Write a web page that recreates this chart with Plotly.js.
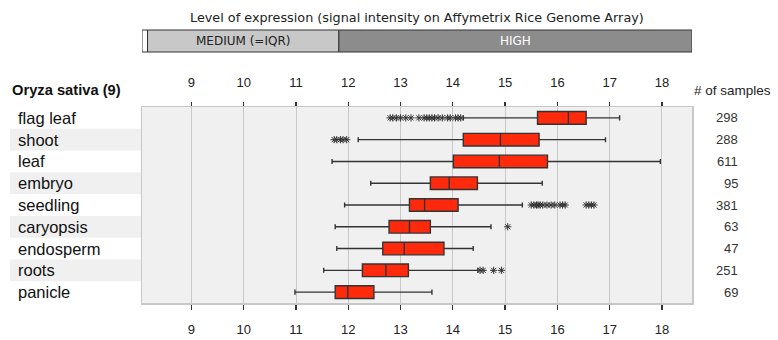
<!DOCTYPE html>
<html>
<head>
<meta charset="utf-8">
<script src="https://cdn.plot.ly/plotly-3.0.1.min.js"></script>
<style>html,body{margin:0;padding:0;background:#fff;}#chart{width:778px;height:340px;}</style>
</head>
<body>
<div id="chart"></div>
<script>
// ---- data ----
const tissues = ["flag leaf","shoot","leaf","embryo","seedling","caryopsis","endosperm","roots","panicle"];
const sampleCounts = [298, 288, 611, 95, 381, 63, 47, 251, 69];
const lowerFence = [14.20, 12.19, 11.69, 12.43, 11.93, 11.75, 11.78, 11.53, 10.98];
const q1Values   = [15.62, 14.20, 14.01, 13.57, 13.17, 12.78, 12.66, 12.27, 11.75];
const medians    = [16.21, 14.91, 14.89, 13.93, 13.46, 13.17, 13.07, 12.72, 11.99];
const q3Values   = [16.55, 15.65, 15.81, 14.47, 14.10, 13.57, 13.83, 13.15, 12.49];
const upperFence = [17.19, 16.92, 17.97, 15.71, 15.33, 14.73, 14.39, 14.48, 13.60];
const outFlagLeaf = [12.80, 12.85, 12.92, 13.00, 13.10, 13.20, 13.35, 13.45, 13.50, 13.55, 13.60, 13.65, 13.72, 13.80, 13.90, 13.95, 14.05, 14.10, 14.15];
const outShoot = [11.73, 11.78, 11.85, 11.90, 11.97];
const outSeedling = [15.50, 15.55, 15.60, 15.63, 15.67, 15.72, 15.80, 15.88, 15.95, 16.05, 16.10, 16.15, 16.55, 16.60, 16.65, 16.70];
const outCaryopsis = [15.05];
const outRoots = [14.52, 14.58, 14.78, 14.93];
const xTicks = [9, 10, 11, 12, 13, 14, 15, 16, 17, 18];
const legendTitle = "Level of expression (signal intensity on Affymetrix Rice Genome Array)";
const legendSegments = ["MEDIUM (=IQR)", "HIGH"];
const speciesLabel = "Oryza sativa (9)";
const samplesHeader = "# of samples";

// ---- build ----
const outX = [], outY = [];
[[outFlagLeaf,"flag leaf"],[outShoot,"shoot"],[outSeedling,"seedling"],[outCaryopsis,"caryopsis"],[outRoots,"roots"]]
  .forEach(([arr,name]) => arr.forEach(v => { outX.push(v); outY.push(name); }));

const xRange = [8.054, 18.575];
const FONT = "Liberation Sans, Arial, sans-serif";
const WIDE = "DejaVu Sans, Verdana, sans-serif";
const W = 778, H = 340, ML = 142, MR = 86, MT = 107, MB = 37;
const pw = W - ML - MR, ph = H - MT - MB;
const px2paperX = p => (p - ML) / pw;
const px2paperY = p => (H - MB - p) / ph;

const traces = [
  {
    type: "box", orientation: "h", y: tissues,
    q1: q1Values, median: medians, q3: q3Values,
    lowerfence: lowerFence, upperfence: upperFence,
    fillcolor: "#ff2a0c", line: {color: "#333333", width: 1.4},
    width: 0.58, whiskerwidth: 0.4, boxpoints: false,
    hoverinfo: "skip", showlegend: false
  },
  {
    type: "scatter", mode: "markers", x: outX, y: outY,
    marker: {symbol: "asterisk-open", size: 6, color: "#333333", line: {color: "#333333", width: 1}},
    hoverinfo: "skip", showlegend: false
  },
  {
    type: "scatter", mode: "markers", x: [xTicks[0]], y: [tissues[0]], xaxis: "x2",
    marker: {opacity: 0}, hoverinfo: "skip", showlegend: false
  }
];

const shapes = [];
const annotations = [];
// alternating row label backgrounds
tissues.forEach((t, i) => {
  if (i % 2 === 1) {
    shapes.push({type: "rect", layer: "below", xref: "paper", yref: "y",
      x0: px2paperX(10), x1: 0, y0: i - 0.5, y1: i + 0.5,
      fillcolor: "#f0f0f0", line: {width: 0}});
  }
  annotations.push({xref: "paper", yref: "y", x: px2paperX(16), y: i, text: t,
    xanchor: "left", yanchor: "middle", showarrow: false,
    font: {family: FONT, size: 16.5, color: "#111"}});
  annotations.push({xref: "paper", yref: "y", x: px2paperX(740), y: i, text: String(sampleCounts[i]),
    xanchor: "right", yanchor: "middle", showarrow: false,
    font: {family: FONT, size: 13, color: "#333"}});
});

// header legend bar
const by0 = px2paperY(52), by1 = px2paperY(30);
const edgeWhite = 8.16, medHigh = 11.82;
shapes.push({type: "rect", xref: "x", yref: "paper", x0: xRange[0], x1: edgeWhite, y0: by0, y1: by1, fillcolor: "#ffffff", line: {color: "#333", width: 1}});
shapes.push({type: "rect", xref: "x", yref: "paper", x0: edgeWhite, x1: medHigh, y0: by0, y1: by1, fillcolor: "#c8c8c8", line: {color: "#333", width: 1}});
shapes.push({type: "rect", xref: "x", yref: "paper", x0: medHigh, x1: xRange[1], y0: by0, y1: by1, fillcolor: "#8c8c8c", line: {color: "#333", width: 1}});
annotations.push({xref: "x", yref: "paper", x: (edgeWhite + medHigh) / 2, y: (by0 + by1) / 2, text: legendSegments[0],
  showarrow: false, xanchor: "center", yanchor: "middle", font: {family: WIDE, size: 12, color: "#222"}});
annotations.push({xref: "x", yref: "paper", x: (medHigh + xRange[1]) / 2, y: (by0 + by1) / 2, text: legendSegments[1],
  showarrow: false, xanchor: "center", yanchor: "middle", font: {family: WIDE, size: 12, color: "#ffffff"}});
annotations.push({xref: "paper", yref: "paper", x: px2paperX(417), y: px2paperY(17), text: legendTitle,
  showarrow: false, xanchor: "center", yanchor: "middle", font: {family: WIDE, size: 12.8, color: "#222"}});
annotations.push({xref: "paper", yref: "paper", x: px2paperX(10), y: px2paperY(90), text: "<b>" + speciesLabel + "</b>",
  showarrow: false, xanchor: "left", yanchor: "middle", font: {family: FONT, size: 14.7, color: "#111"}});
annotations.push({xref: "paper", yref: "paper", x: px2paperX(692), y: px2paperY(90), text: samplesHeader,
  showarrow: false, xanchor: "left", yanchor: "middle", font: {family: FONT, size: 13.5, color: "#222"}});

const layout = {
  width: W, height: H,
  margin: {l: ML, r: MR, t: MT, b: MB, pad: 0},
  paper_bgcolor: "#ffffff", plot_bgcolor: "#f0f0f0",
  showlegend: false,
  font: {family: FONT, size: 13, color: "#222"},
  xaxis: {
    range: xRange, tickvals: xTicks, ticktext: xTicks.map(String),
    showgrid: true, gridcolor: "#c8c8c8", gridwidth: 1,
    zeroline: false, showline: true, mirror: true, linecolor: "#c8c8c8", linewidth: 1.5,
    ticks: "outside", ticklen: 5, tickcolor: "#333", tickwidth: 1.3,
    ticklabelstandoff: 9, tickfont: {family: FONT, size: 13, color: "#222"}
  },
  xaxis2: {
    overlaying: "x", side: "top", range: xRange, tickvals: xTicks, ticktext: xTicks.map(String),
    showgrid: false, zeroline: false, showline: false,
    ticks: "outside", ticklen: 4, tickcolor: "#333", tickwidth: 1.3,
    ticklabelstandoff: 10, tickfont: {family: FONT, size: 13, color: "#222"}
  },
  yaxis: {
    type: "category", categoryorder: "array", categoryarray: tissues,
    range: [8.5, -0.5], showticklabels: false, ticks: "",
    showgrid: false, zeroline: false, showline: true, mirror: true, linecolor: "#c8c8c8", linewidth: 1.5
  },
  shapes: shapes,
  annotations: annotations
};

Plotly.newPlot("chart", traces, layout, {displayModeBar: false, staticPlot: true});
</script>
</body>
</html>
